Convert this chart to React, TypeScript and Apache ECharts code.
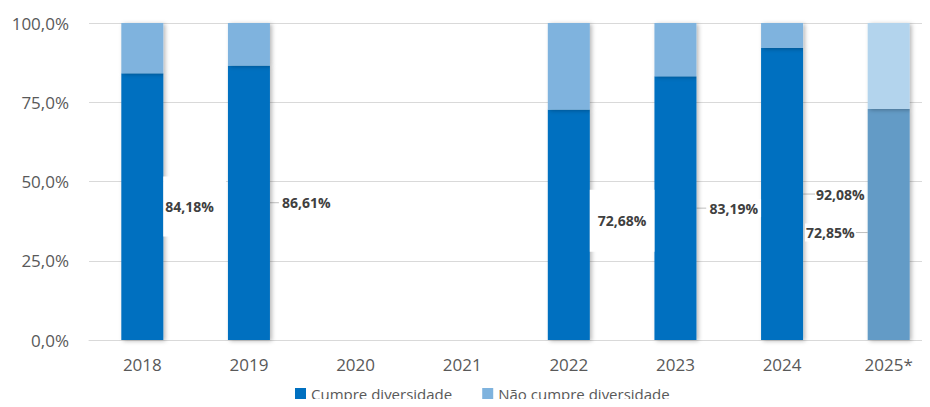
import React, { useEffect, useRef } from "react";
import * as echarts from "echarts";

const categories = ["2018", "2019", "2020", "2021", "2022", "2023", "2024", "2025*"];
const cumpre = [84.18, 86.61, null, null, 72.68, 83.19, 92.08, 72.85];
const naoCumpre = [15.82, 13.39, null, null, 27.32, 16.81, 7.92, 27.15];
const yTicks = { min: 0, max: 100, interval: 25 };

const DARK = "#0070C0";
const LIGHT = "#7FB3DE";
const DARK_PROJ = "#639BC6";
const LIGHT_PROJ = "#B3D4ED";

// label tweaks per category index
const labelDx: Record<number, number> = { 1: 9, 5: 10, 6: 12, 7: -12 };
const labelDy: Record<number, number> = { 4: -4, 7: 8 };

export default function App() {
  const ref = useRef<HTMLDivElement>(null);
  useEffect(() => {
    if (!ref.current) return;
    const chart = echarts.init(ref.current, null, { renderer: "svg" });
    const shadow = {
      shadowColor: "rgba(0,0,0,0.28)",
      shadowBlur: 4,
      shadowOffsetX: 2,
      shadowOffsetY: 1,
    };
    const fmtPct = (v: number) => v.toFixed(2).replace(".", ",") + "%";
    const cumpreData = cumpre.map((v, i) => {
      if (v === null) return null;
      const item: any = { value: v };
      if (i === 7) {
        item.itemStyle = { color: DARK_PROJ };
        item.label = { position: "left", padding: [2, 1] };
      }
      if (i === 6) item.label = { padding: [2, 1] };
      if (i === 0) item.label = { padding: [26, 12, 20, 2] };
      if (i === 4) item.label = { padding: [36, 8, 12, 8] };
      return item;
    });
    const naoData = naoCumpre.map((v, i) => {
      if (v === null) return null;
      if (i === 7) return { value: v, itemStyle: { color: LIGHT_PROJ } };
      return v;
    });
    chart.setOption({
      animation: false,
      textStyle: { fontFamily: "Open Sans" },
      grid: {
        left: 89,
        width: 853,
        top: 23,
        height: 317,
        containLabel: false,
        outerBoundsMode: "none",
      },
      legend: {
        top: 381,
        left: 290,
        icon: "rect",
        itemWidth: 11,
        itemHeight: 11,
        itemGap: 30,
        textStyle: { fontSize: 15, color: "#595959", fontFamily: "Open Sans" },
        data: ["Cumpre diversidade", "Não cumpre diversidade"],
      },
      xAxis: {
        type: "category",
        data: categories,
        axisLine: { show: true, lineStyle: { color: "#D9D9D9" } },
        axisTick: { show: false },
        axisLabel: { color: "#595959", fontSize: 17, margin: 16, fontFamily: "Open Sans" },
      },
      yAxis: {
        type: "value",
        min: yTicks.min,
        max: yTicks.max,
        interval: yTicks.interval,
        axisLine: { show: false },
        axisTick: { show: false },
        splitLine: { lineStyle: { color: "#D9D9D9" } },
        axisLabel: {
          color: "#595959",
          fontSize: 17,
          margin: 20,
          fontFamily: "Open Sans",
          formatter: (v: number) => v.toFixed(1).replace(".", ",") + "%",
        },
      },
      series: [
        {
          name: "Cumpre diversidade",
          type: "bar",
          stack: "total",
          barWidth: 42,
          data: cumpreData,
          itemStyle: { color: DARK, ...shadow },
          label: {
            show: true,
            position: "right",
            distance: 0,
            formatter: (p: any) => fmtPct(p.value),
            fontSize: 14,
            fontWeight: "bold",
            color: "#404040",
            fontFamily: "Open Sans",
            backgroundColor: "#FFFFFF",
            padding: [2, 3],
          },
          labelLine: { show: true, lineStyle: { color: "#BFBFBF", width: 1 } },
          labelLayout: (p: any) => ({
            dx: labelDx[p.dataIndex] || 0,
            dy: labelDy[p.dataIndex] || 0,
          }),
        },
        {
          name: "Não cumpre diversidade",
          type: "bar",
          stack: "total",
          barWidth: 42,
          data: naoData,
          itemStyle: { color: LIGHT, ...shadow },
        },
      ],
    });
    return () => chart.dispose();
  }, []);
  return <div ref={ref} style={{ width: 930, height: 407, margin: -8 }} />;
}
